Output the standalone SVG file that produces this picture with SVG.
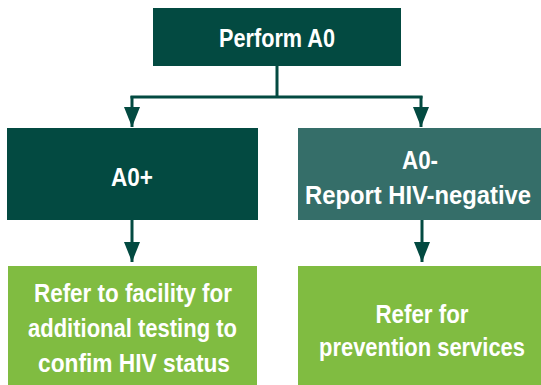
<svg xmlns="http://www.w3.org/2000/svg" width="541" height="385" viewBox="0 0 541 385">
  <defs>
    <marker id="arrow" viewBox="0 0 20 16" refX="20" refY="8" markerWidth="20" markerHeight="16" markerUnits="userSpaceOnUse" orient="auto">
      <path d="M0,0 L20,8 L0,16 Z" fill="#034a41"/>
    </marker>
    <style>
      .dark { fill: #034a41; }
      .mid { fill: #356e69; }
      .light { fill: #80bc41; }
      .lbl { font-family: "Liberation Sans", Arial, sans-serif; font-weight: bold; font-size: 26px; fill: #ffffff; text-anchor: middle; }
      .conn { stroke: #034a41; stroke-width: 3; fill: none; }
    </style>
  </defs>
  <rect width="541" height="385" fill="#ffffff"/>

  <g id="connectors">
    <path class="conn" d="M277,66 V97"/>
    <path class="conn" d="M130.5,97 H422.5"/>
    <path class="conn" d="M132,96 V127" marker-end="url(#arrow)"/>
    <path class="conn" d="M421,96 V127" marker-end="url(#arrow)"/>
    <path class="conn" d="M132,220 V262" marker-end="url(#arrow)"/>
    <path class="conn" d="M422,220 V262" marker-end="url(#arrow)"/>
  </g>

  <g id="perform">
    <rect class="dark" x="153" y="8" width="248" height="58"/>
    <text class="lbl" x="277" y="47" textLength="116" lengthAdjust="spacingAndGlyphs">Perform A0</text>
  </g>

  <g id="ao-pos">
    <rect class="dark" x="7" y="128" width="251" height="92"/>
    <text class="lbl" x="132" y="186" textLength="42" lengthAdjust="spacingAndGlyphs">A0+</text>
  </g>

  <g id="ao-neg">
    <rect class="mid" x="298" y="128" width="243" height="92"/>
    <text class="lbl" x="420" y="169" textLength="36" lengthAdjust="spacingAndGlyphs">A0-</text>
    <text class="lbl" x="418" y="204" textLength="226" lengthAdjust="spacingAndGlyphs">Report HIV-negative</text>
  </g>

  <g id="refer-facility">
    <rect class="light" x="8" y="266" width="249" height="119"/>
    <text class="lbl" x="133" y="302" textLength="198" lengthAdjust="spacingAndGlyphs">Refer to facility for</text>
    <text class="lbl" x="132.5" y="337" textLength="209" lengthAdjust="spacingAndGlyphs">additional testing to</text>
    <text class="lbl" x="134" y="372" textLength="192" lengthAdjust="spacingAndGlyphs">confim HIV status</text>
  </g>

  <g id="refer-prevention">
    <rect class="light" x="298" y="266" width="243" height="119"/>
    <text class="lbl" x="422" y="323" textLength="93" lengthAdjust="spacingAndGlyphs">Refer for</text>
    <text class="lbl" x="422" y="356" textLength="206" lengthAdjust="spacingAndGlyphs">prevention services</text>
  </g>
</svg>
